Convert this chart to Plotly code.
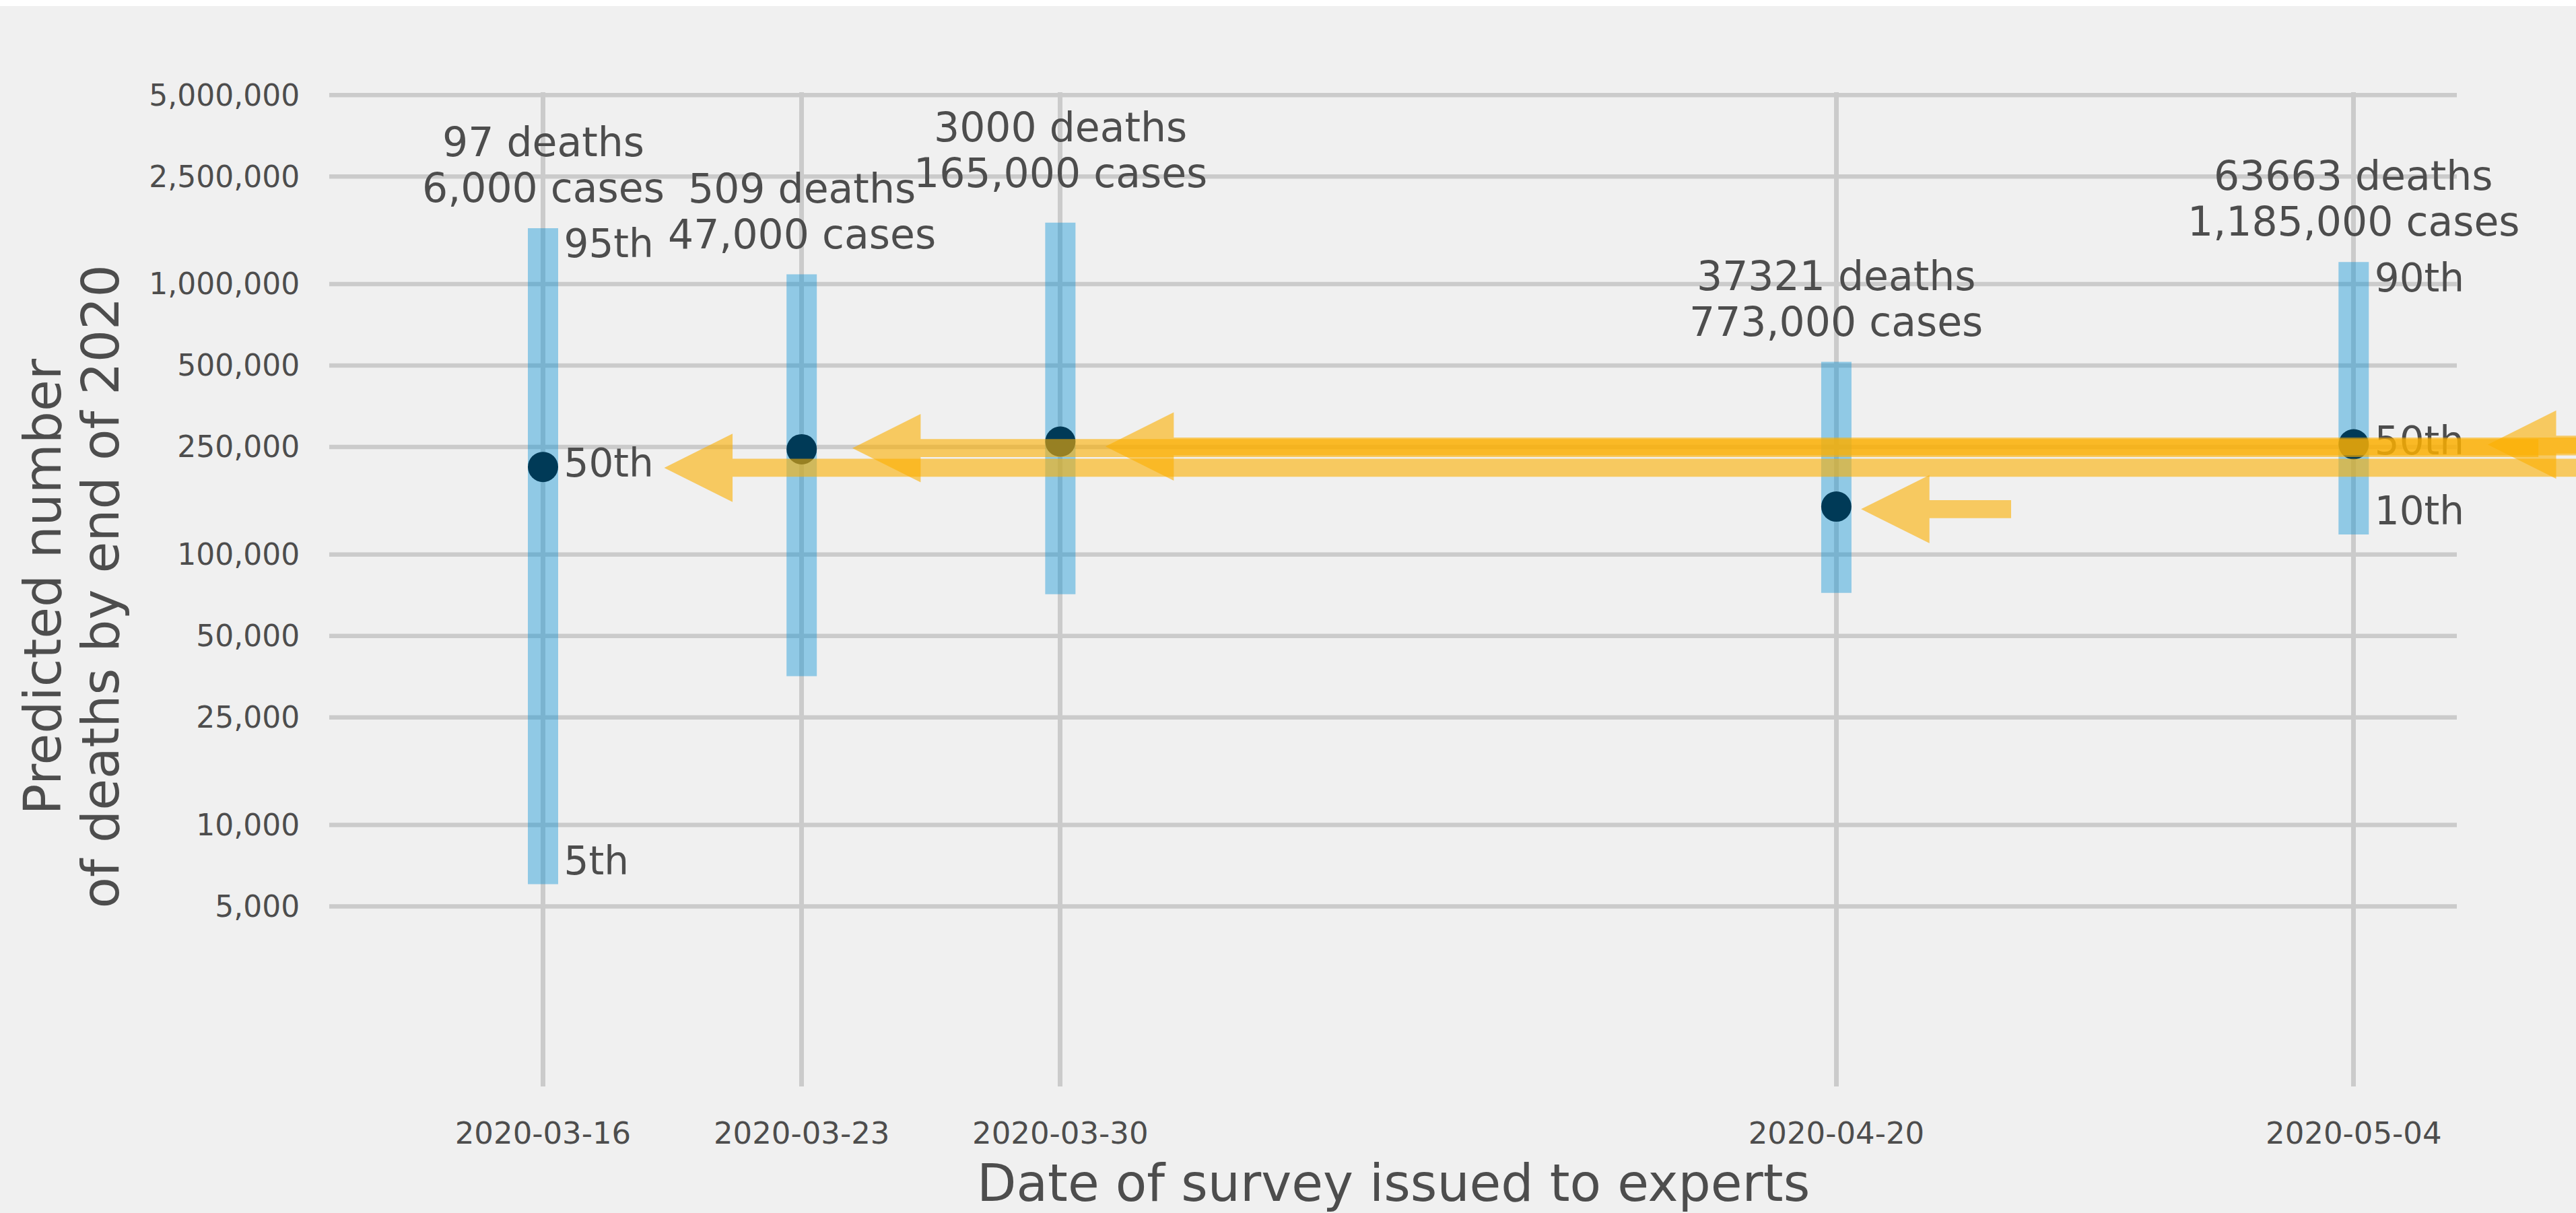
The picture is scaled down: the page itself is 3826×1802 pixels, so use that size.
import math
import pandas as pd
import plotly.graph_objects as go

# Expert survey rounds: predicted US COVID-19 deaths by the end of 2020
survey_dates = ["2020-03-16", "2020-03-23", "2020-03-30", "2020-04-20", "2020-05-04"]
median_deaths = [210800, 245100, 261600, 150400, 255700]
upper_deaths = [1610000, 1087000, 1687000, 516000, 1207000]
lower_deaths = [6040, 35500, 71300, 72200, 118700]
upper_labels = ["95th", "", "", "", "90th"]
median_labels = ["50th", "", "", "", "50th"]
lower_labels = ["5th", "", "", "", "10th"]

# Reported US totals on the day each survey was issued
deaths_at_survey = [97, 509, 3000, 37321, 63663]
cases_at_survey = [6000, 47000, 165000, 773000, 1185000]

# Levels of the arrows pointing back at each median
arrow_levels = [209300, 247500, 251000, 147200, 255000]

y_tick_values = [5000, 10000, 25000, 50000, 100000, 250000,
                 500000, 1000000, 2500000, 5000000]

# ---- styling / geometry ----
FONT = "DejaVu Sans"
TEXT = "#4d4d4d"
BG = "#f0f0f0"
GRID = "#cbcbcb"
BAR = "rgba(0,143,213,0.4)"
DOT = "#003a57"
ARROW = "rgba(252,175,0,0.6)"

W, H = 3826, 1802
M_L, M_R, M_T, M_B = 489, 0, 137, 188
PLOT_W = W - M_L - M_R
PLOT_H = H - M_T - M_B
PLOT_BOTTOM = M_T + PLOT_H


def paper_x(px):
    return (px - M_L) / PLOT_W


def paper_y(py):
    return (PLOT_BOTTOM - py) / PLOT_H


t0 = pd.Timestamp(survey_dates[0])
X_RANGE = [t0 - pd.Timedelta(days=5.785), t0 + pd.Timedelta(days=55.017)]
Y_RANGE = [3.0333, 6.7095]
GRID_RIGHT = paper_x(3649)                  # horizontal grid stops short of the right edge

ARROW_TIP_GAP_DAYS = [3.28, 1.37, 1.22, 0.67, 3.63]
ARROW_TAIL_DAYS = [60, 54.0, 60, 39.73, 60]  # counted from the first survey
HEAD_LEN_DAYS = 1.85
HEAD_HALF_DEC = 0.1263
SHAFT_HALF_DEC = 0.0332

LABEL_GAP = pd.Timedelta(hours=13.56)
TOP_LABEL_LIFT = [0, 0, 14, 0, 0]


def iso(t):
    return pd.Timestamp(t).isoformat()


fig = go.Figure()

# percentile ranges
bx, by = [], []
for d, lo, hi in zip(survey_dates, lower_deaths, upper_deaths):
    bx += [d, d, None]
    by += [lo, hi, None]
fig.add_trace(go.Scatter(x=bx, y=by, mode="lines",
                         line=dict(color=BAR, width=45),
                         hoverinfo="skip", showlegend=False))

# medians
fig.add_trace(go.Scatter(x=survey_dates, y=median_deaths, mode="markers",
                         marker=dict(color=DOT, size=45, line=dict(width=0)),
                         showlegend=False))

# percentile labels beside the ranges
for labels, vals, pos in [(upper_labels, upper_deaths, "bottom right"),
                          (median_labels, median_deaths, "middle right"),
                          (lower_labels, lower_deaths, "top right")]:
    lx, ly, lt = [], [], []
    for d, v, s in zip(survey_dates, vals, labels):
        if s:
            lx.append(iso(pd.Timestamp(d) + LABEL_GAP))
            ly.append(v)
            lt.append(s)
    fig.add_trace(go.Scatter(x=lx, y=ly, text=lt, mode="text",
                             textposition=pos, cliponaxis=False,
                             textfont=dict(family=FONT, size=58, color=TEXT),
                             hoverinfo="skip", showlegend=False))

# arrows pointing back to each median
hh = 10 ** HEAD_HALF_DEC
sh = 10 ** SHAFT_HALF_DEC
for i, lvl in enumerate(arrow_levels):
    tip = pd.Timestamp(survey_dates[i]) + pd.Timedelta(days=ARROW_TIP_GAP_DAYS[i])
    base = tip + pd.Timedelta(days=HEAD_LEN_DAYS)
    tail = t0 + pd.Timedelta(days=ARROW_TAIL_DAYS[i])
    xs = [tip, base, base, tail, tail, base, base, tip]
    ys = [lvl, lvl * hh, lvl * sh, lvl * sh, lvl / sh, lvl / sh, lvl / hh, lvl]
    fig.add_trace(go.Scatter(x=[iso(x) for x in xs], y=ys, mode="lines",
                             fill="toself", fillcolor=ARROW,
                             line=dict(width=0, color="rgba(0,0,0,0)"),
                             hoverinfo="skip", showlegend=False))

annotations = []
# counts at the time of each survey, stacked above each range
for i, d in enumerate(survey_dates):
    ytop = math.log10(upper_deaths[i])
    lift = TOP_LABEL_LIFT[i]
    annotations.append(dict(x=d, y=ytop, xref="x", yref="y", showarrow=False,
                            text=f"{deaths_at_survey[i]} deaths",
                            yanchor="bottom", xanchor="center", yshift=91 + lift,
                            font=dict(family=FONT, size=60, color=TEXT)))
    annotations.append(dict(x=d, y=ytop, xref="x", yref="y", showarrow=False,
                            text=f"{cases_at_survey[i]:,} cases",
                            yanchor="bottom", xanchor="center", yshift=23 + lift,
                            font=dict(family=FONT, size=60, color=TEXT)))

# axis titles
for txt, px in [("Predicted number", 63), ("of deaths by end of 2020", 149)]:
    annotations.append(dict(x=paper_x(px), y=paper_y(871.5),
                            xref="paper", yref="paper", showarrow=False,
                            text=txt, textangle=-90, xanchor="center", yanchor="middle",
                            font=dict(family=FONT, size=76, color=TEXT)))
annotations.append(dict(x=paper_x(2069), y=paper_y(1757),
                        xref="paper", yref="paper", showarrow=False,
                        text="Date of survey issued to experts",
                        xanchor="center", yanchor="middle",
                        font=dict(family=FONT, size=76, color=TEXT)))

shapes = []
for v in y_tick_values:
    shapes.append(dict(type="line", xref="paper", yref="y", x0=0, x1=GRID_RIGHT,
                       y0=v, y1=v, layer="below",
                       line=dict(color=GRID, width=6.5)))
# thin white band along the top edge
shapes.append(dict(type="rect", xref="paper", yref="paper",
                   x0=paper_x(0), x1=1.0, y0=paper_y(9), y1=paper_y(0),
                   fillcolor="white", line=dict(width=0), layer="above"))

fig.update_layout(
    width=W, height=H,
    margin=dict(l=M_L, r=M_R, t=M_T, b=M_B, pad=0),
    paper_bgcolor=BG, plot_bgcolor=BG,
    font=dict(family=FONT, color=TEXT),
    showlegend=False,
    annotations=annotations,
    shapes=shapes,
    xaxis=dict(type="date", range=[iso(X_RANGE[0]), iso(X_RANGE[1])],
               tickvals=survey_dates, ticktext=survey_dates,
               showgrid=True, gridcolor=GRID, gridwidth=7,
               showline=False, zeroline=False,
               ticks="outside", ticklen=30, tickcolor="rgba(0,0,0,0)",
               tickfont=dict(family=FONT, size=45, color=TEXT)),
    yaxis=dict(type="log", range=Y_RANGE,
               tickvals=y_tick_values, ticktext=[f"{v:,}" for v in y_tick_values],
               showgrid=False, showline=False, zeroline=False,
               ticks="outside", ticklen=34, tickcolor="rgba(0,0,0,0)",
               tickfont=dict(family=FONT, size=44, color=TEXT)),
)

fig.write_html("out.html", config={"displayModeBar": False})
